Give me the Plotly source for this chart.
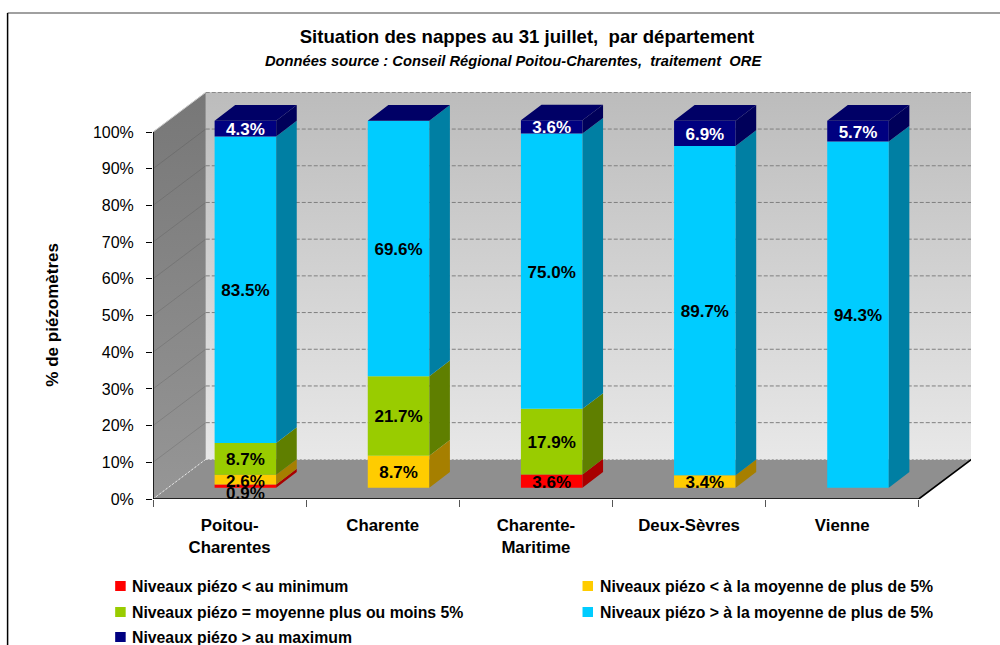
import plotly.graph_objects as go

CATEGORIES = ["Poitou-<br>Charentes", "Charente", "Charente-<br>Maritime", "Deux-Sèvres", "Vienne"]
SERIES_NAMES = ["Niveaux piézo < au minimum", "Niveaux piézo < à la moyenne de plus de 5%",
                "Niveaux piézo = moyenne plus ou moins 5%", "Niveaux piézo > à la moyenne de plus de 5%",
                "Niveaux piézo > au maximum"]
BELOW_MIN = [0.9, 0, 3.6, 0, 0]
BELOW_AVG = [2.6, 8.7, 0, 3.4, 0]
AT_AVG = [8.7, 21.7, 17.9, 0, 0]
ABOVE_AVG = [83.5, 69.6, 75.0, 89.7, 94.3]
ABOVE_MAX = [4.3, 0, 3.6, 6.9, 5.7]
SERIES = [BELOW_MIN, BELOW_AVG, AT_AVG, ABOVE_AVG, ABOVE_MAX]
FRONT = ["#ff0000", "#ffcc00", "#99cc00", "#00ccff", "#000080"]
SIDE = ["#a80000", "#a67f00", "#5f7f00", "#007fa3", "#00005a"]
TOP_COLOR = "#000066"
TEXT_COLOR = ["black", "black", "black", "black", "white"]
YTICKS = list(range(0, 101, 10))

# Geometry of the pseudo-3D box
L, R, T, B = 153.3, 29.3, 92, 146
W, H = 1000, 645
XU, YU = 153.04, 3.67
XMAX = (W - L - R) / XU
YMAX = (H - T - B) / YU
DX, DY = 0.3444, 10.8
D0X, D0Y = 0.30, 0.285
D1X, D1Y = 0.69, 0.68
BAR_W = 0.402
N = len(CATEGORIES)
FONT = "Liberation Sans"


def front(x, y):
    return x + D0X * DX, y + D0Y * DY


def rear(x, y):
    return x + D1X * DX, y + D1Y * DY


def polys(quads):
    xs, ys = [], []
    for q in quads:
        for p in q + [q[0]]:
            xs.append(p[0]); ys.append(p[1])
        xs.append(None); ys.append(None)
    return xs, ys


def poly_trace(quads, color, xa="x", ya="y", **kw):
    xs, ys = polys(quads)
    return go.Scatter(x=xs, y=ys, xaxis=xa, yaxis=ya, mode="lines", fill="toself", fillcolor=color,
                      line=dict(width=0), hoverinfo="skip", showlegend=False, **kw)


def line_trace(segs, color, width=1, dash="solid"):
    xs, ys = [], []
    for s in segs:
        for p in s:
            xs.append(p[0]); ys.append(p[1])
        xs.append(None); ys.append(None)
    return go.Scatter(x=xs, y=ys, mode="lines", line=dict(color=color, width=width, dash=dash),
                      hoverinfo="skip", showlegend=False, cliponaxis=False)


fig = go.Figure()

# Walls and floor
bx0, by0 = DX, DY
bx1, by1 = N + DX, DY
back = [[(bx0, by0), (bx1, by0), (bx1, by0 + 100), (bx0, by0 + 100)]]
xs, ys = polys(back)
fig.add_trace(go.Scatter(x=xs, y=ys, mode="lines", fill="toself", line=dict(width=0), hoverinfo="skip",
                         showlegend=False,
                         fillgradient=dict(type="vertical", colorscale=[[0, "#e8e8e8"], [1, "#bcbcbc"]],
                                           start=by0, stop=by0 + 100)))
left = [[(0, 0), (bx0, by0), (bx0, by0 + 100), (0, 100)]]
xs, ys = polys(left)
fig.add_trace(go.Scatter(x=xs, y=ys, mode="lines", fill="toself", line=dict(width=0), hoverinfo="skip",
                         showlegend=False,
                         fillgradient=dict(type="vertical", colorscale=[[0, "#969696"], [1, "#777777"]],
                                           start=0, stop=by0 + 100)))
fig.add_trace(poly_trace([[(0, 0), (N, 0), (bx1, by1), (bx0, by0)]], "#8f8f8f"))

# Gridlines
fig.add_trace(line_trace([[(bx0, by0 + t), (bx1, by0 + t)] for t in YTICKS[1:]], "#7f7f7f", 1, "4px,2px"))
fig.add_trace(line_trace([[(0, t), (bx0, by0 + t)] for t in YTICKS[1:]], "rgba(60,60,60,0.2)", 1))
fig.add_trace(line_trace([[(bx0, by0), (bx1, by1)], [(0, 0), (bx0, by0)]], "#e6e6e6", 1, "2px,2px"))
fig.add_trace(line_trace([[(0, 100), (bx0, by0 + 100)]], "#d0d0d0", 1))

# Axis lines and ticks' baseline
fig.add_trace(line_trace([[(0, 0), (N, 0), (bx1, by1)], [(0, 0), (0, 100)]], "black", 1.6))

# Front faces of the bars, on an overlaid pair of axes so they sit above the walls
centers = [i + 0.5 for i in range(N)]
bar_x = [front(c, 0)[0] for c in centers]
cum = [0.0] * N
bases = []
for vals in SERIES:
    bases.append(list(cum))
    cum = [c + v for c, v in zip(cum, vals)]
bar_y0 = front(0, 0)[1]

for s, vals in enumerate(SERIES):
    fig.add_trace(go.Bar(x=bar_x, y=vals, base=[b + bar_y0 for b in bases[s]], width=BAR_W,
                         marker=dict(color=FRONT[s], line=dict(width=0)), name=SERIES_NAMES[s],
                         xaxis="x2", yaxis="y2", showlegend=False))

# Side and top faces
for s, vals in enumerate(SERIES):
    quads = []
    for i, v in enumerate(vals):
        if v <= 0:
            continue
        xr = centers[i] + BAR_W / 2
        b = bases[s][i]
        quads.append([front(xr, b), rear(xr, b), rear(xr, b + v), front(xr, b + v)])
    fig.add_trace(poly_trace(quads, SIDE[s], "x2", "y2"))
tops = []
for i in range(N):
    xl, xr = centers[i] - BAR_W / 2, centers[i] + BAR_W / 2
    t = cum[i]
    tops.append([front(xl, t), front(xr, t), rear(xr, t), rear(xl, t)])
fig.add_trace(poly_trace(tops, TOP_COLOR, "x2", "y2"))

# Data labels (the smallest label is pushed below its bar, as in the original)
LABEL_SHIFT = -0.6
NUDGE = {(0, 0): -1.7, (1, 0): -0.3}
for s, vals in enumerate(SERIES):
    lx, ly, lt = [], [], []
    for i, v in enumerate(vals):
        if v <= 0:
            continue
        lx.append(bar_x[i])
        ly.append(bases[s][i] + v / 2 + bar_y0 + LABEL_SHIFT + NUDGE.get((s, i), 0))
        lt.append(f"<b>{v:.1f}%</b>")
    fig.add_trace(go.Scatter(x=lx, y=ly, text=lt, mode="text", xaxis="x2", yaxis="y2", hoverinfo="skip",
                             showlegend=False, cliponaxis=False,
                             textfont=dict(family=FONT, size=17, color=TEXT_COLOR[s])))


def px(x):
    return (x - L) / (W - L - R)


def py(y):
    return (H - B - y) / (H - T - B)


# Legend, laid out as two columns
LEG_X = [115.5, 582.5]
LEG_Y = [586, 612, 637]
LEG_POS = [(0, 0), (1, 0), (0, 1), (1, 1), (0, 2)]
shapes = [
    dict(type="line", xref="paper", yref="paper", x0=px(8), x1=px(1000), y0=py(13), y1=py(13),
         line=dict(color="#808080", width=1.5), layer="above"),
    dict(type="line", xref="paper", yref="paper", x0=px(8), x1=px(8), y0=py(13), y1=py(645),
         line=dict(color="black", width=1.5), layer="above"),
]
annotations = [
    dict(text="<b><i>Données source : Conseil Régional Poitou-Charentes,  traitement  ORE</i></b>",
         xref="paper", yref="paper", x=px(514), y=py(61), xanchor="center", yanchor="middle", showarrow=False,
         font=dict(family=FONT, size=14.7, color="black")),
    dict(text="<b>% de piézomètres</b>", xref="paper", yref="paper", x=px(52), y=py(315), xanchor="center",
         yanchor="middle", textangle=-90, showarrow=False, font=dict(family=FONT, size=17, color="black")),
]
for s, (c, r) in enumerate(LEG_POS):
    x0, y0 = LEG_X[c], LEG_Y[r]
    shapes.append(dict(type="rect", xref="paper", yref="paper", x0=px(x0), x1=px(x0 + 10.5),
                       y0=py(y0 - 5), y1=py(y0 + 5), fillcolor=FRONT[s], line=dict(width=0)))
    annotations.append(dict(text=f"<b>{SERIES_NAMES[s]}</b>", xref="paper", yref="paper", x=px(x0 + 15),
                            y=py(y0), xanchor="left", yanchor="middle", showarrow=False,
                            font=dict(family=FONT, size=15.8, color="black")))

fig.update_layout(
    width=W, height=H, margin=dict(l=L, r=R, t=T, b=B, pad=0, autoexpand=False),
    paper_bgcolor="white", plot_bgcolor="white", barmode="overlay", showlegend=False,
    font=dict(family=FONT, color="black"),
    title=dict(text="<b>Situation des nappes au 31 juillet,  par département</b>", x=527 / W, xanchor="center",
               y=1 - 36 / H, yanchor="middle", font=dict(family=FONT, size=18.6, color="black")),
    xaxis=dict(range=[0, XMAX], tickmode="array", tickvals=list(range(N + 1)), ticktext=[""] * (N + 1),
               ticks="outside", ticklen=7, tickcolor="#555555", tickwidth=1, showgrid=False, zeroline=False,
               fixedrange=True),
    yaxis=dict(range=[0, YMAX], tickmode="array", tickvals=YTICKS, ticktext=[f"{t}%" for t in YTICKS],
               ticks="outside", ticklen=6, tickcolor="black", tickwidth=1, showgrid=False, zeroline=False,
               tickfont=dict(family=FONT, size=16), ticklabelstandoff=9, fixedrange=True),
    xaxis2=dict(range=[0, XMAX], overlaying="x", anchor="y2", tickmode="array", tickvals=centers,
                ticktext=[f"<b>{c}</b>" for c in CATEGORIES], ticks="", showgrid=False, zeroline=False,
                tickfont=dict(family=FONT, size=16.8), ticklabelstandoff=14, fixedrange=True),
    yaxis2=dict(range=[0, YMAX], overlaying="y", anchor="x2", showticklabels=False, ticks="", showgrid=False,
                zeroline=False, fixedrange=True),
    shapes=shapes, annotations=annotations,
)
fig.write_html("out.html", config=dict(displayModeBar=False),
               post_script="document.body.style.margin='0';")
